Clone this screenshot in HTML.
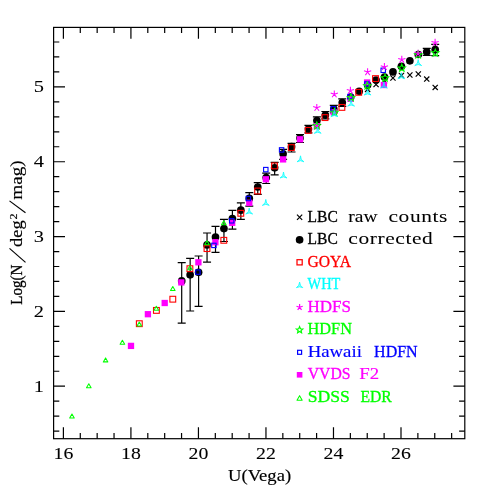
<!DOCTYPE html>
<html><head><meta charset="utf-8"><title>U-band galaxy number counts</title>
<style>
html,body{margin:0;padding:0;background:#fff;}
body{width:491px;height:491px;overflow:hidden;font-family:"Liberation Serif",serif;}
svg{display:block;will-change:transform;}
</style></head>
<body>
<svg width="491" height="491" viewBox="0 0 491 491">
<rect width="491" height="491" fill="#fff"/>
<g stroke="#000" stroke-width="1.2" fill="none" shape-rendering="auto">
<rect x="53.6" y="27.4" width="411.20" height="411.30"/>
<path d="M63.40 438.7v-11.4M63.40 27.4v11.4M80.28 438.7v-5.7M80.28 27.4v5.7M97.16 438.7v-5.7M97.16 27.4v5.7M114.04 438.7v-5.7M114.04 27.4v5.7M130.92 438.7v-11.4M130.92 27.4v11.4M147.80 438.7v-5.7M147.80 27.4v5.7M164.68 438.7v-5.7M164.68 27.4v5.7M181.56 438.7v-5.7M181.56 27.4v5.7M198.44 438.7v-11.4M198.44 27.4v11.4M215.32 438.7v-5.7M215.32 27.4v5.7M232.20 438.7v-5.7M232.20 27.4v5.7M249.08 438.7v-5.7M249.08 27.4v5.7M265.96 438.7v-11.4M265.96 27.4v11.4M282.84 438.7v-5.7M282.84 27.4v5.7M299.72 438.7v-5.7M299.72 27.4v5.7M316.60 438.7v-5.7M316.60 27.4v5.7M333.48 438.7v-11.4M333.48 27.4v11.4M350.36 438.7v-5.7M350.36 27.4v5.7M367.24 438.7v-5.7M367.24 27.4v5.7M384.12 438.7v-5.7M384.12 27.4v5.7M401.00 438.7v-11.4M401.00 27.4v11.4M417.88 438.7v-5.7M417.88 27.4v5.7M434.76 438.7v-5.7M434.76 27.4v5.7M451.64 438.7v-5.7M451.64 27.4v5.7M53.6 431.12h5.7M464.8 431.12h-5.7M53.6 416.15h5.7M464.8 416.15h-5.7M53.6 401.19h5.7M464.8 401.19h-5.7M53.6 386.22h11.4M464.8 386.22h-11.4M53.6 371.25h5.7M464.8 371.25h-5.7M53.6 356.29h5.7M464.8 356.29h-5.7M53.6 341.32h5.7M464.8 341.32h-5.7M53.6 326.36h5.7M464.8 326.36h-5.7M53.6 311.39h11.4M464.8 311.39h-11.4M53.6 296.42h5.7M464.8 296.42h-5.7M53.6 281.46h5.7M464.8 281.46h-5.7M53.6 266.49h5.7M464.8 266.49h-5.7M53.6 251.53h5.7M464.8 251.53h-5.7M53.6 236.56h11.4M464.8 236.56h-11.4M53.6 221.59h5.7M464.8 221.59h-5.7M53.6 206.63h5.7M464.8 206.63h-5.7M53.6 191.66h5.7M464.8 191.66h-5.7M53.6 176.70h5.7M464.8 176.70h-5.7M53.6 161.73h11.4M464.8 161.73h-11.4M53.6 146.76h5.7M464.8 146.76h-5.7M53.6 131.80h5.7M464.8 131.80h-5.7M53.6 116.83h5.7M464.8 116.83h-5.7M53.6 101.87h5.7M464.8 101.87h-5.7M53.6 86.90h11.4M464.8 86.90h-11.4M53.6 71.93h5.7M464.8 71.93h-5.7M53.6 56.97h5.7M464.8 56.97h-5.7M53.6 42.00h5.7M464.8 42.00h-5.7"/>
</g>
<g font-family="'Liberation Serif', serif">
<text transform="translate(53.50 459.20) scale(1.2000 1)" fill="#000" stroke="#000" stroke-width="0.08" font-size="16.5" letter-spacing="0.000">16</text>
<text transform="translate(121.02 459.20) scale(1.2000 1)" fill="#000" stroke="#000" stroke-width="0.08" font-size="16.5" letter-spacing="0.000">18</text>
<text transform="translate(188.54 459.20) scale(1.2000 1)" fill="#000" stroke="#000" stroke-width="0.08" font-size="16.5" letter-spacing="0.000">20</text>
<text transform="translate(256.06 459.20) scale(1.2000 1)" fill="#000" stroke="#000" stroke-width="0.08" font-size="16.5" letter-spacing="0.000">22</text>
<text transform="translate(323.58 459.20) scale(1.2000 1)" fill="#000" stroke="#000" stroke-width="0.08" font-size="16.5" letter-spacing="0.000">24</text>
<text transform="translate(391.10 459.20) scale(1.2000 1)" fill="#000" stroke="#000" stroke-width="0.08" font-size="16.5" letter-spacing="0.000">26</text>
<text transform="translate(33.70 391.52) scale(1.2364 1)" fill="#000" stroke="#000" stroke-width="0.05" font-size="16.5" letter-spacing="0.000">1</text>
<text transform="translate(33.70 316.69) scale(1.2364 1)" fill="#000" stroke="#000" stroke-width="0.05" font-size="16.5" letter-spacing="0.000">2</text>
<text transform="translate(33.70 241.86) scale(1.2364 1)" fill="#000" stroke="#000" stroke-width="0.05" font-size="16.5" letter-spacing="0.000">3</text>
<text transform="translate(33.70 167.03) scale(1.2364 1)" fill="#000" stroke="#000" stroke-width="0.05" font-size="16.5" letter-spacing="0.000">4</text>
<text transform="translate(33.70 92.20) scale(1.2364 1)" fill="#000" stroke="#000" stroke-width="0.05" font-size="16.5" letter-spacing="0.000">5</text>
<text transform="translate(228.10 480.80) scale(1.1290 1)" fill="#000" stroke="#000" stroke-width="0.16" font-size="16.5" letter-spacing="0.000">U(Vega)</text>
<text transform="translate(22.30 304.70) rotate(-90) scale(0.9138 1)" fill="#000" stroke="#000" stroke-width="0.30" font-size="16.5" letter-spacing="0.000">Log(N</text>
<path d="M25.50 262.40L9.50 248.40" stroke="#000" stroke-width="1.15" fill="none"/>
<text transform="translate(22.30 246.90) rotate(-90) scale(1.1124 1)" fill="#000" stroke="#000" stroke-width="0.18" font-size="16.5" letter-spacing="0.000">deg</text>
<text transform="translate(17.10 219.50) rotate(-90) scale(1.1429 1)" fill="#000" stroke="#000" stroke-width="0.14" font-size="10.5" letter-spacing="0.000">2</text>
<path d="M25.50 212.70L9.50 200.90" stroke="#000" stroke-width="1.15" fill="none"/>
<text transform="translate(22.30 199.70) rotate(-90) scale(1.1592 1)" fill="#000" stroke="#000" stroke-width="0.12" font-size="16.5" letter-spacing="0.000">mag)</text>
</g>
<g>
<path d="M365.00 86.80l5.2 5.2M365.00 92.00l5.2 -5.2" stroke="#000" stroke-width="1.2" fill="none"/>
<path d="M373.45 81.90l5.2 5.2M373.45 87.10l5.2 -5.2" stroke="#000" stroke-width="1.2" fill="none"/>
<path d="M381.90 78.20l5.2 5.2M381.90 83.40l5.2 -5.2" stroke="#000" stroke-width="1.2" fill="none"/>
<path d="M390.35 75.40l5.2 5.2M390.35 80.60l5.2 -5.2" stroke="#000" stroke-width="1.2" fill="none"/>
<path d="M398.80 72.80l5.2 5.2M398.80 78.00l5.2 -5.2" stroke="#000" stroke-width="1.2" fill="none"/>
<path d="M407.25 72.40l5.2 5.2M407.25 77.60l5.2 -5.2" stroke="#000" stroke-width="1.2" fill="none"/>
<path d="M415.70 71.40l5.2 5.2M415.70 76.60l5.2 -5.2" stroke="#000" stroke-width="1.2" fill="none"/>
<path d="M424.15 76.50l5.2 5.2M424.15 81.70l5.2 -5.2" stroke="#000" stroke-width="1.2" fill="none"/>
<path d="M432.60 84.80l5.2 5.2M432.60 90.00l5.2 -5.2" stroke="#000" stroke-width="1.2" fill="none"/>
<path d="M181.70 262.60V323.20M177.70 262.60h8.0M177.70 323.20h8.0" stroke="#000" stroke-width="1.2" fill="none"/>
<circle cx="181.70" cy="280.90" r="3.85" fill="#000"/>
<path d="M190.15 258.40V311.00M186.15 258.40h8.0M186.15 311.00h8.0" stroke="#000" stroke-width="1.2" fill="none"/>
<circle cx="190.15" cy="274.80" r="3.85" fill="#000"/>
<path d="M198.60 256.00V306.30M194.60 256.00h8.0M194.60 306.30h8.0" stroke="#000" stroke-width="1.2" fill="none"/>
<circle cx="198.60" cy="272.30" r="3.85" fill="#000"/>
<path d="M207.05 233.00V262.10M203.05 233.00h8.0M203.05 262.10h8.0" stroke="#000" stroke-width="1.2" fill="none"/>
<circle cx="207.05" cy="244.90" r="3.85" fill="#000"/>
<path d="M215.50 226.40V252.40M211.50 226.40h8.0M211.50 252.40h8.0" stroke="#000" stroke-width="1.2" fill="none"/>
<circle cx="215.50" cy="237.10" r="3.85" fill="#000"/>
<path d="M223.95 219.30V241.50M219.95 219.30h8.0M219.95 241.50h8.0" stroke="#000" stroke-width="1.2" fill="none"/>
<circle cx="223.95" cy="228.60" r="3.85" fill="#000"/>
<path d="M232.40 210.30V229.20M228.40 210.30h8.0M228.40 229.20h8.0" stroke="#000" stroke-width="1.2" fill="none"/>
<circle cx="232.40" cy="218.50" r="3.85" fill="#000"/>
<path d="M240.85 202.90V219.30M236.85 202.90h8.0M236.85 219.30h8.0" stroke="#000" stroke-width="1.2" fill="none"/>
<circle cx="240.85" cy="210.20" r="3.85" fill="#000"/>
<path d="M249.30 192.70V206.20M245.30 192.70h8.0M245.30 206.20h8.0" stroke="#000" stroke-width="1.2" fill="none"/>
<circle cx="249.30" cy="198.40" r="3.85" fill="#000"/>
<path d="M257.75 182.60V194.30M253.75 182.60h8.0M253.75 194.30h8.0" stroke="#000" stroke-width="1.2" fill="none"/>
<circle cx="257.75" cy="187.00" r="3.85" fill="#000"/>
<path d="M266.20 173.10V183.50M262.20 173.10h8.0M262.20 183.50h8.0" stroke="#000" stroke-width="1.2" fill="none"/>
<circle cx="266.20" cy="177.50" r="3.85" fill="#000"/>
<path d="M274.65 162.30V174.80M270.65 162.30h8.0M270.65 174.80h8.0" stroke="#000" stroke-width="1.2" fill="none"/>
<circle cx="274.65" cy="167.80" r="3.85" fill="#000"/>
<path d="M283.10 149.40V159.40M279.10 149.40h8.0M279.10 159.40h8.0" stroke="#000" stroke-width="1.2" fill="none"/>
<circle cx="283.10" cy="153.80" r="3.85" fill="#000"/>
<path d="M291.55 143.30V152.00M287.55 143.30h8.0M287.55 152.00h8.0" stroke="#000" stroke-width="1.2" fill="none"/>
<circle cx="291.55" cy="146.70" r="3.85" fill="#000"/>
<path d="M300.00 134.70V142.50M296.00 134.70h8.0M296.00 142.50h8.0" stroke="#000" stroke-width="1.2" fill="none"/>
<circle cx="300.00" cy="138.10" r="3.85" fill="#000"/>
<path d="M308.45 125.40V132.80M304.45 125.40h8.0M304.45 132.80h8.0" stroke="#000" stroke-width="1.2" fill="none"/>
<circle cx="308.45" cy="129.00" r="3.85" fill="#000"/>
<path d="M316.90 116.90V124.30M312.90 116.90h8.0M312.90 124.30h8.0" stroke="#000" stroke-width="1.2" fill="none"/>
<circle cx="316.90" cy="120.50" r="3.85" fill="#000"/>
<path d="M325.35 111.50V118.90M321.35 111.50h8.0M321.35 118.90h8.0" stroke="#000" stroke-width="1.2" fill="none"/>
<circle cx="325.35" cy="115.10" r="3.85" fill="#000"/>
<path d="M333.80 105.40V112.80M329.80 105.40h8.0M329.80 112.80h8.0" stroke="#000" stroke-width="1.2" fill="none"/>
<circle cx="333.80" cy="109.00" r="3.85" fill="#000"/>
<path d="M342.25 98.90V106.30M338.25 98.90h8.0M338.25 106.30h8.0" stroke="#000" stroke-width="1.2" fill="none"/>
<circle cx="342.25" cy="102.50" r="3.85" fill="#000"/>
<circle cx="350.70" cy="97.10" r="3.85" fill="#000"/>
<circle cx="359.15" cy="91.30" r="3.85" fill="#000"/>
<circle cx="367.60" cy="84.80" r="3.85" fill="#000"/>
<circle cx="376.05" cy="80.00" r="3.85" fill="#000"/>
<circle cx="384.50" cy="77.00" r="3.85" fill="#000"/>
<circle cx="392.95" cy="71.90" r="3.85" fill="#000"/>
<circle cx="401.40" cy="66.30" r="3.85" fill="#000"/>
<circle cx="409.85" cy="60.80" r="3.85" fill="#000"/>
<circle cx="418.30" cy="54.50" r="3.85" fill="#000"/>
<path d="M426.75 48.30V55.30M422.75 48.30h8.0M422.75 55.30h8.0" stroke="#000" stroke-width="1.2" fill="none"/>
<circle cx="426.75" cy="51.80" r="3.85" fill="#000"/>
<path d="M435.20 44.40V55.70M431.20 44.40h8.0M431.20 55.70h8.0" stroke="#000" stroke-width="1.2" fill="none"/>
<circle cx="435.20" cy="49.60" r="3.85" fill="#000"/>
<rect x="127.85" y="342.75" width="6.3" height="6.3" fill="#f0f"/>
<rect x="144.75" y="311.05" width="6.3" height="6.3" fill="#f0f"/>
<rect x="161.55" y="299.85" width="6.3" height="6.3" fill="#f0f"/>
<rect x="178.15" y="279.25" width="6.3" height="6.3" fill="#f0f"/>
<rect x="195.25" y="259.15" width="6.3" height="6.3" fill="#f0f"/>
<rect x="212.25" y="239.05" width="6.3" height="6.3" fill="#f0f"/>
<rect x="229.05" y="219.65" width="6.3" height="6.3" fill="#f0f"/>
<rect x="246.15" y="199.65" width="6.3" height="6.3" fill="#f0f"/>
<rect x="262.75" y="176.15" width="6.3" height="6.3" fill="#f0f"/>
<rect x="279.95" y="156.25" width="6.3" height="6.3" fill="#f0f"/>
<rect x="296.85" y="136.15" width="6.3" height="6.3" fill="#f0f"/>
<rect x="313.65" y="123.05" width="6.3" height="6.3" fill="#f0f"/>
<rect x="330.55" y="109.15" width="6.3" height="6.3" fill="#f0f"/>
<rect x="347.35" y="95.65" width="6.3" height="6.3" fill="#f0f"/>
<rect x="363.95" y="79.35" width="6.3" height="6.3" fill="#f0f"/>
<rect x="380.75" y="81.85" width="6.3" height="6.3" fill="#f0f"/>
<rect x="195.70" y="269.90" width="4.4" height="4.4" stroke="#00f" stroke-width="1.1" fill="none"/>
<rect x="211.70" y="243.20" width="4.4" height="4.4" stroke="#00f" stroke-width="1.1" fill="none"/>
<rect x="229.50" y="218.60" width="4.4" height="4.4" stroke="#00f" stroke-width="1.1" fill="none"/>
<rect x="246.20" y="196.30" width="4.4" height="4.4" stroke="#00f" stroke-width="1.1" fill="none"/>
<rect x="263.60" y="167.40" width="4.4" height="4.4" stroke="#00f" stroke-width="1.1" fill="none"/>
<rect x="279.40" y="147.70" width="4.4" height="4.4" stroke="#00f" stroke-width="1.1" fill="none"/>
<rect x="331.00" y="106.60" width="4.4" height="4.4" stroke="#00f" stroke-width="1.1" fill="none"/>
<rect x="347.80" y="94.30" width="4.4" height="4.4" stroke="#00f" stroke-width="1.1" fill="none"/>
<rect x="364.70" y="81.80" width="4.4" height="4.4" stroke="#00f" stroke-width="1.1" fill="none"/>
<rect x="381.00" y="68.10" width="4.4" height="4.4" stroke="#00f" stroke-width="1.1" fill="none"/>
<polygon points="316.80,121.90 317.80,124.42 320.51,124.59 318.42,126.33 319.09,128.96 316.80,127.50 314.51,128.96 315.18,126.33 313.09,124.59 315.80,124.42" stroke="#0f0" stroke-width="1.05" fill="none"/>
<polygon points="334.50,108.50 335.50,111.02 338.21,111.19 336.12,112.93 336.79,115.56 334.50,114.10 332.21,115.56 332.88,112.93 330.79,111.19 333.50,111.02" stroke="#0f0" stroke-width="1.05" fill="none"/>
<polygon points="351.10,93.70 352.10,96.22 354.81,96.39 352.72,98.13 353.39,100.76 351.10,99.30 348.81,100.76 349.48,98.13 347.39,96.39 350.10,96.22" stroke="#0f0" stroke-width="1.05" fill="none"/>
<polygon points="367.30,82.00 368.30,84.52 371.01,84.69 368.92,86.43 369.59,89.06 367.30,87.60 365.01,89.06 365.68,86.43 363.59,84.69 366.30,84.52" stroke="#0f0" stroke-width="1.05" fill="none"/>
<polygon points="385.00,74.10 386.00,76.62 388.71,76.79 386.62,78.53 387.29,81.16 385.00,79.70 382.71,81.16 383.38,78.53 381.29,76.79 384.00,76.62" stroke="#0f0" stroke-width="1.05" fill="none"/>
<polygon points="401.80,64.20 402.80,66.72 405.51,66.89 403.42,68.63 404.09,71.26 401.80,69.80 399.51,71.26 400.18,68.63 398.09,66.89 400.80,66.72" stroke="#0f0" stroke-width="1.05" fill="none"/>
<polygon points="418.20,50.90 419.20,53.42 421.91,53.59 419.82,55.33 420.49,57.96 418.20,56.50 415.91,57.96 416.58,55.33 414.49,53.59 417.20,53.42" stroke="#0f0" stroke-width="1.05" fill="none"/>
<polygon points="435.30,49.10 436.30,51.62 439.01,51.79 436.92,53.53 437.59,56.16 435.30,54.70 433.01,56.16 433.68,53.53 431.59,51.79 434.30,51.62" stroke="#0f0" stroke-width="1.05" fill="none"/>
<path d="M316.80 107.70L316.80 103.90M316.80 107.70L320.41 106.53M316.80 107.70L319.03 110.77M316.80 107.70L314.57 110.77M316.80 107.70L313.19 106.53" stroke="#f0f" stroke-width="1.05" fill="none"/>
<path d="M334.30 94.20L334.30 90.40M334.30 94.20L337.91 93.03M334.30 94.20L336.53 97.27M334.30 94.20L332.07 97.27M334.30 94.20L330.69 93.03" stroke="#f0f" stroke-width="1.05" fill="none"/>
<path d="M350.40 90.60L350.40 86.80M350.40 90.60L354.01 89.43M350.40 90.60L352.63 93.67M350.40 90.60L348.17 93.67M350.40 90.60L346.79 89.43" stroke="#f0f" stroke-width="1.05" fill="none"/>
<path d="M367.60 72.00L367.60 68.20M367.60 72.00L371.21 70.83M367.60 72.00L369.83 75.07M367.60 72.00L365.37 75.07M367.60 72.00L363.99 70.83" stroke="#f0f" stroke-width="1.05" fill="none"/>
<path d="M384.40 66.90L384.40 63.10M384.40 66.90L388.01 65.73M384.40 66.90L386.63 69.97M384.40 66.90L382.17 69.97M384.40 66.90L380.79 65.73" stroke="#f0f" stroke-width="1.05" fill="none"/>
<path d="M401.80 59.60L401.80 55.80M401.80 59.60L405.41 58.43M401.80 59.60L404.03 62.67M401.80 59.60L399.57 62.67M401.80 59.60L398.19 58.43" stroke="#f0f" stroke-width="1.05" fill="none"/>
<path d="M418.00 53.50L418.00 49.70M418.00 53.50L421.61 52.33M418.00 53.50L420.23 56.57M418.00 53.50L415.77 56.57M418.00 53.50L414.39 52.33" stroke="#f0f" stroke-width="1.05" fill="none"/>
<path d="M435.10 42.60L435.10 38.80M435.10 42.60L438.71 41.43M435.10 42.60L437.33 45.67M435.10 42.60L432.87 45.67M435.10 42.60L431.49 41.43" stroke="#f0f" stroke-width="1.05" fill="none"/>
<polygon points="249.20,208.00 249.98,211.55 252.66,214.00 249.20,212.90 245.74,214.00 248.42,211.55" stroke="#0ff" stroke-width="0.75" fill="#0ff" fill-opacity="0.45" stroke-linejoin="round"/>
<polygon points="265.80,199.40 266.58,202.95 269.26,205.40 265.80,204.30 262.34,205.40 265.02,202.95" stroke="#0ff" stroke-width="0.75" fill="#0ff" fill-opacity="0.45" stroke-linejoin="round"/>
<polygon points="283.50,172.00 284.28,175.55 286.96,178.00 283.50,176.90 280.04,178.00 282.72,175.55" stroke="#0ff" stroke-width="0.75" fill="#0ff" fill-opacity="0.45" stroke-linejoin="round"/>
<polygon points="300.50,155.80 301.28,159.35 303.96,161.80 300.50,160.70 297.04,161.80 299.72,159.35" stroke="#0ff" stroke-width="0.75" fill="#0ff" fill-opacity="0.45" stroke-linejoin="round"/>
<polygon points="317.70,127.30 318.48,130.85 321.16,133.30 317.70,132.20 314.24,133.30 316.92,130.85" stroke="#0ff" stroke-width="0.75" fill="#0ff" fill-opacity="0.45" stroke-linejoin="round"/>
<polygon points="334.30,110.60 335.08,114.15 337.76,116.60 334.30,115.50 330.84,116.60 333.52,114.15" stroke="#0ff" stroke-width="0.75" fill="#0ff" fill-opacity="0.45" stroke-linejoin="round"/>
<polygon points="351.10,100.10 351.88,103.65 354.56,106.10 351.10,105.00 347.64,106.10 350.32,103.65" stroke="#0ff" stroke-width="0.75" fill="#0ff" fill-opacity="0.45" stroke-linejoin="round"/>
<polygon points="367.60,89.00 368.38,92.55 371.06,95.00 367.60,93.90 364.14,95.00 366.82,92.55" stroke="#0ff" stroke-width="0.75" fill="#0ff" fill-opacity="0.45" stroke-linejoin="round"/>
<polygon points="383.90,82.00 384.68,85.55 387.36,88.00 383.90,86.90 380.44,88.00 383.12,85.55" stroke="#0ff" stroke-width="0.75" fill="#0ff" fill-opacity="0.45" stroke-linejoin="round"/>
<polygon points="401.30,72.70 402.08,76.25 404.76,78.70 401.30,77.60 397.84,78.70 400.52,76.25" stroke="#0ff" stroke-width="0.75" fill="#0ff" fill-opacity="0.45" stroke-linejoin="round"/>
<polygon points="418.20,59.60 418.98,63.15 421.66,65.60 418.20,64.50 414.74,65.60 417.42,63.15" stroke="#0ff" stroke-width="0.75" fill="#0ff" fill-opacity="0.45" stroke-linejoin="round"/>
<rect x="136.40" y="320.80" width="5.8" height="5.8" stroke="#f00" stroke-width="1.1" fill="none"/>
<rect x="153.50" y="307.50" width="5.8" height="5.8" stroke="#f00" stroke-width="1.1" fill="none"/>
<rect x="169.90" y="296.30" width="5.8" height="5.8" stroke="#f00" stroke-width="1.1" fill="none"/>
<rect x="187.00" y="265.80" width="5.8" height="5.8" stroke="#f00" stroke-width="1.1" fill="none"/>
<rect x="204.10" y="245.70" width="5.8" height="5.8" stroke="#f00" stroke-width="1.1" fill="none"/>
<rect x="220.90" y="237.40" width="5.8" height="5.8" stroke="#f00" stroke-width="1.1" fill="none"/>
<rect x="237.90" y="210.40" width="5.8" height="5.8" stroke="#f00" stroke-width="1.1" fill="none"/>
<rect x="254.70" y="188.10" width="5.8" height="5.8" stroke="#f00" stroke-width="1.1" fill="none"/>
<rect x="271.60" y="163.00" width="5.8" height="5.8" stroke="#f00" stroke-width="1.1" fill="none"/>
<rect x="288.40" y="144.70" width="5.8" height="5.8" stroke="#f00" stroke-width="1.1" fill="none"/>
<rect x="305.30" y="127.50" width="5.8" height="5.8" stroke="#f00" stroke-width="1.1" fill="none"/>
<rect x="322.10" y="114.70" width="5.8" height="5.8" stroke="#f00" stroke-width="1.1" fill="none"/>
<rect x="339.00" y="104.50" width="5.8" height="5.8" stroke="#f00" stroke-width="1.1" fill="none"/>
<rect x="355.80" y="89.40" width="5.8" height="5.8" stroke="#f00" stroke-width="1.1" fill="none"/>
<rect x="372.60" y="75.70" width="5.8" height="5.8" stroke="#f00" stroke-width="1.1" fill="none"/>
<polygon points="71.96,414.01 74.25,417.99 69.67,417.99" stroke="#0f0" stroke-width="1.05" fill="none" stroke-linejoin="round"/>
<polygon points="88.80,383.81 91.09,387.79 86.51,387.79" stroke="#0f0" stroke-width="1.05" fill="none" stroke-linejoin="round"/>
<polygon points="105.60,357.91 107.89,361.89 103.31,361.89" stroke="#0f0" stroke-width="1.05" fill="none" stroke-linejoin="round"/>
<polygon points="122.40,340.21 124.69,344.19 120.11,344.19" stroke="#0f0" stroke-width="1.05" fill="none" stroke-linejoin="round"/>
<polygon points="139.30,322.11 141.59,326.09 137.01,326.09" stroke="#0f0" stroke-width="1.05" fill="none" stroke-linejoin="round"/>
<polygon points="156.30,306.21 158.59,310.19 154.01,310.19" stroke="#0f0" stroke-width="1.05" fill="none" stroke-linejoin="round"/>
<polygon points="172.80,286.51 175.09,290.49 170.51,290.49" stroke="#0f0" stroke-width="1.05" fill="none" stroke-linejoin="round"/>
<polygon points="189.90,265.71 192.19,269.69 187.61,269.69" stroke="#0f0" stroke-width="1.05" fill="none" stroke-linejoin="round"/>
<polygon points="207.00,240.71 209.29,244.69 204.71,244.69" stroke="#0f0" stroke-width="1.05" fill="none" stroke-linejoin="round"/>
<polygon points="223.80,220.81 226.09,224.79 221.51,224.79" stroke="#0f0" stroke-width="1.05" fill="none" stroke-linejoin="round"/>
</g>
<g font-family="'Liberation Serif', serif">
<path d="M297.00 214.70l5.2 5.2M297.00 219.90l5.2 -5.2" stroke="#000" stroke-width="1.2" fill="none"/>
<text transform="translate(307.50 221.60) scale(0.9442 1)" fill="#000" stroke="#000" stroke-width="0.30" font-size="16.5" letter-spacing="0.000">LBC</text>
<text transform="translate(348.30 221.60) scale(1.1805 1)" fill="#000" stroke="#000" stroke-width="0.10" font-size="16.5" letter-spacing="0.000">raw</text>
<text transform="translate(388.50 221.60) scale(1.3000 1)" fill="#000" stroke="#000" stroke-width="0.05" font-size="16.5" letter-spacing="0.461">counts</text>
<circle cx="299.60" cy="239.80" r="3.85" fill="#000"/>
<text transform="translate(307.50 244.10) scale(0.9442 1)" fill="#000" stroke="#000" stroke-width="0.30" font-size="16.5" letter-spacing="0.000">LBC</text>
<text transform="translate(348.30 244.10) scale(1.3000 1)" fill="#000" stroke="#000" stroke-width="0.05" font-size="16.5" letter-spacing="0.454">corrected</text>
<rect x="297.00" y="259.70" width="5.2" height="5.2" stroke="#f00" stroke-width="1.25" fill="none"/>
<text transform="translate(307.50 266.60) scale(0.9491 1)" fill="#f00" stroke="#f00" stroke-width="0.30" font-size="16.5" letter-spacing="0.000">GOYA</text>
<polygon points="299.60,282.10 300.47,285.30 302.80,287.65 299.60,286.80 296.40,287.65 298.73,285.30" stroke="#0ff" stroke-width="0.75" fill="#0ff" fill-opacity="0.45" stroke-linejoin="round"/>
<text transform="translate(307.50 289.10) scale(0.8757 1)" fill="#0ff" stroke="#0ff" stroke-width="0.30" font-size="16.5" letter-spacing="0.000">WHT</text>
<path d="M299.60 307.30L299.60 304.00M299.60 307.30L302.74 306.28M299.60 307.30L301.54 309.97M299.60 307.30L297.66 309.97M299.60 307.30L296.46 306.28" stroke="#f0f" stroke-width="1.2" fill="none"/>
<text transform="translate(307.50 311.60) scale(1.0312 1)" fill="#f0f" stroke="#f0f" stroke-width="0.30" font-size="16.5" letter-spacing="0.000">HDFS</text>
<polygon points="299.60,326.60 300.48,328.79 302.83,328.95 301.03,330.46 301.60,332.75 299.60,331.50 297.60,332.75 298.17,330.46 296.37,328.95 298.72,328.79" stroke="#0f0" stroke-width="1.15" fill="none"/>
<text transform="translate(307.50 334.10) scale(0.9905 1)" fill="#0f0" stroke="#0f0" stroke-width="0.30" font-size="16.5" letter-spacing="0.000">HDFN</text>
<rect x="297.60" y="350.30" width="4.0" height="4.0" stroke="#00f" stroke-width="1.2" fill="none"/>
<text transform="translate(307.70 356.60) scale(1.1375 1)" fill="#00f" stroke="#00f" stroke-width="0.15" font-size="16.5" letter-spacing="-0.000">Hawaii</text>
<text transform="translate(374.10 356.60) scale(0.9705 1)" fill="#00f" stroke="#00f" stroke-width="0.30" font-size="16.5" letter-spacing="0.000">HDFN</text>
<rect x="296.80" y="372.00" width="5.6" height="5.6" fill="#f0f"/>
<text transform="translate(307.70 379.10) scale(0.9571 1)" fill="#f0f" stroke="#f0f" stroke-width="0.30" font-size="16.5" letter-spacing="0.000">VVDS</text>
<text transform="translate(359.30 379.10) scale(1.1419 1)" fill="#f0f" stroke="#f0f" stroke-width="0.14" font-size="16.5" letter-spacing="0.000">F2</text>
<polygon points="299.60,395.65 302.20,400.15 297.00,400.15" stroke="#0f0" stroke-width="1.05" fill="none" stroke-linejoin="round"/>
<text transform="translate(307.70 401.60) scale(1.0698 1)" fill="#0f0" stroke="#0f0" stroke-width="0.30" font-size="16.5" letter-spacing="0.000">SDSS</text>
<text transform="translate(360.40 401.60) scale(0.9515 1)" fill="#0f0" stroke="#0f0" stroke-width="0.30" font-size="16.5" letter-spacing="0.000">EDR</text>
</g>
</svg>
</body></html>
